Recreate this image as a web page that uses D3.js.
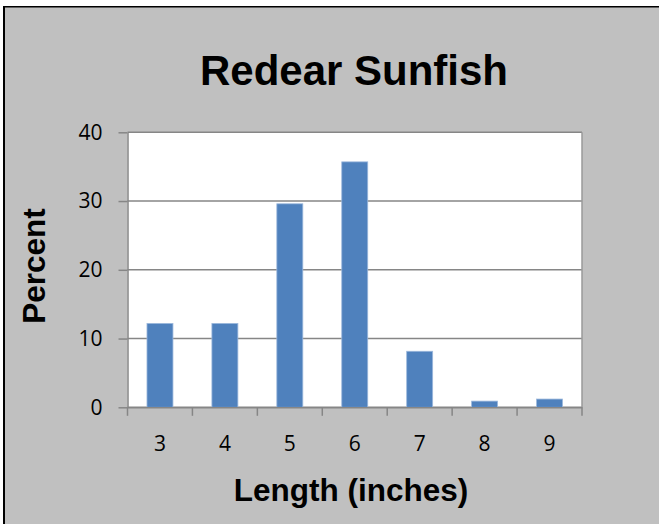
<!DOCTYPE html>
<html>
<head>
<meta charset="utf-8">
<script src="https://cdn.jsdelivr.net/npm/d3@7"></script>
<style>
  html, body { margin: 0; padding: 0; background: #fff; }
  svg { display: block; }
</style>
</head>
<body>
<svg class="chart" width="659" height="524"></svg>
<script>
// data
const lengths = ['3', '4', '5', '6', '7', '8', '9'];
const percent = [12.2, 12.2, 29.6, 35.7, 8.15, 0.9, 1.2];
const yTicks = [0, 10, 20, 30, 40];

const width = 659;
const height = 524;

// plot area
const plotLeft = 127.5, plotRight = 582, plotTop = 132.3, plotBottom = 407.3;

const svg = d3.select('.chart');

// gray chart background with the dark frame on top/left
svg.append('rect')
    .attr('x', 3).attr('y', 6)
    .attr('width', width).attr('height', height)
    .attr('fill', '#c0c0c0');
svg.append('line')
    .attr('x1', 4).attr('x2', 4).attr('y1', 6).attr('y2', height)
    .attr('stroke', '#000').attr('stroke-width', 2);
svg.append('line')
    .attr('x1', 3).attr('x2', width).attr('y1', 6.75).attr('y2', 6.75)
    .attr('stroke', '#000').attr('stroke-width', 1.5);

const x = d3.scaleBand()
    .domain(lengths)
    .range([plotLeft, plotRight])
    .padding(0);

const y = d3.scaleLinear()
    .domain([0, 40])
    .range([plotBottom, plotTop]);

// white plot area
svg.append('rect')
    .attr('x', plotLeft).attr('y', plotTop)
    .attr('width', plotRight - plotLeft).attr('height', plotBottom - plotTop)
    .attr('fill', '#fff');

// gridlines
svg.append('g')
    .selectAll('line')
    .data(yTicks)
    .enter().append('line')
    .attr('x1', plotLeft).attr('x2', plotRight)
    .attr('y1', d => y(d)).attr('y2', d => y(d))
    .attr('stroke', '#868686')
    .attr('stroke-width', 1.5);

// right edge of plot
svg.append('line')
    .attr('x1', plotRight).attr('x2', plotRight)
    .attr('y1', plotTop).attr('y2', plotBottom)
    .attr('stroke', '#9a9a9a')
    .attr('stroke-width', 1.5);

// bars
const barW = x.bandwidth() * 0.4;
svg.append('g')
    .selectAll('rect')
    .data(percent)
    .enter().append('rect')
    .attr('x', (d, i) => x(lengths[i]) + (x.bandwidth() - barW) / 2)
    .attr('y', d => y(d))
    .attr('width', barW)
    .attr('height', d => plotBottom - y(d))
    .attr('fill', '#4f81bd')
    .attr('stroke', '#9cb8dc')
    .attr('stroke-width', 0.8);

// y axis
const yAxis = d3.axisLeft(y)
    .tickValues(yTicks)
    .tickSize(9)
    .tickPadding(16)
    .tickSizeOuter(0);

const gy = svg.append('g')
    .attr('transform', `translate(${plotLeft},0)`)
    .call(yAxis);

// x axis: labels centred in bands, ticks on band edges
const xAxis = d3.axisBottom(x)
    .tickSize(0)
    .tickPadding(28.5)
    .tickSizeOuter(0);

const gx = svg.append('g')
    .attr('transform', `translate(0,${plotBottom})`)
    .call(xAxis);

const edges = lengths.map(d => x(d)).concat([plotRight]);
gx.append('g')
    .selectAll('line')
    .data(edges)
    .enter().append('line')
    .attr('x1', d => d).attr('x2', d => d)
    .attr('y1', 0).attr('y2', 8.5)
    .attr('stroke', '#868686')
    .attr('stroke-width', 1.5);

[gx, gy].forEach(g => {
    g.select('.domain').attr('stroke', '#868686').attr('stroke-width', 1.5);
    g.selectAll('.tick line').attr('stroke', '#868686').attr('stroke-width', 1.5);
    g.selectAll('.tick text')
        .attr('fill', '#000')
        .style('font-family', '"Open Sans", sans-serif')
        .style('font-size', '21px');
});

// titles
svg.append('text')
    .attr('x', 354).attr('y', 85)
    .attr('text-anchor', 'middle')
    .style('font-family', '"Liberation Sans", Arial, sans-serif')
    .style('font-weight', 'bold')
    .style('font-size', '42px')
    .text('Redear Sunfish');

svg.append('text')
    .attr('x', 351).attr('y', 500.5)
    .attr('text-anchor', 'middle')
    .style('font-family', '"Liberation Sans", Arial, sans-serif')
    .style('font-weight', 'bold')
    .style('font-size', '31.5px')
    .text('Length (inches)');

svg.append('text')
    .attr('transform', 'translate(45,266) rotate(-90)')
    .attr('text-anchor', 'middle')
    .style('font-family', '"Liberation Sans", Arial, sans-serif')
    .style('font-weight', 'bold')
    .style('font-size', '31.5px')
    .text('Percent');
</script>
</body>
</html>
